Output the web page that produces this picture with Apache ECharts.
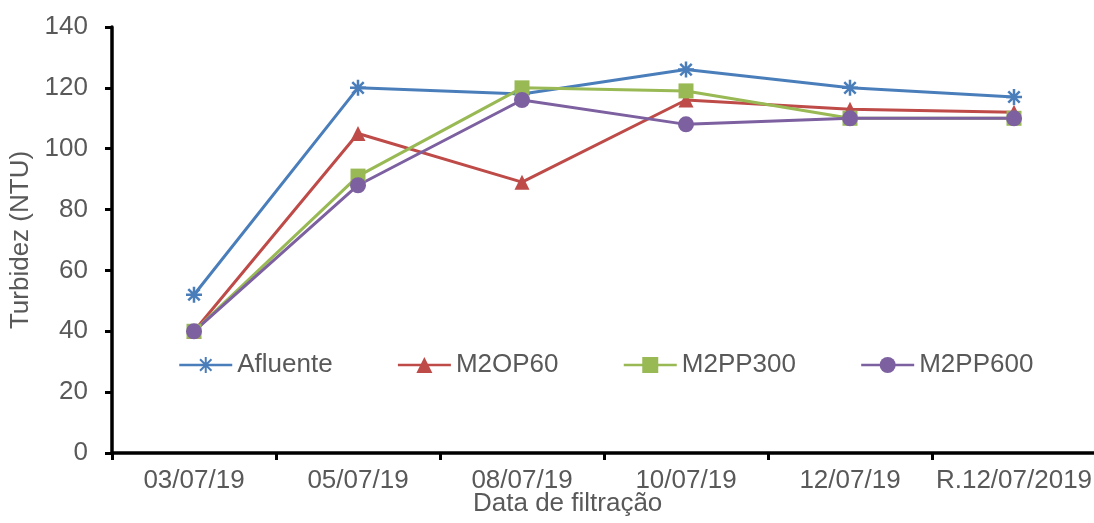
<!DOCTYPE html>
<html>
<head>
<meta charset="utf-8">
<script src="https://cdn.jsdelivr.net/npm/echarts@6/dist/echarts.min.js"></script>
<style>
  html, body { margin: 0; padding: 0; background: #fff; }
  #chart { width: 1094px; height: 523px; }
</style>
</head>
<body>
<div id="chart"></div>
<script>
// Turbidity over filtration dates
const categories = ['03/07/19', '05/07/19', '08/07/19', '10/07/19', '12/07/19', 'R.12/07/2019'];
const afluente = [52, 120, 118, 126, 120, 117];
const m2op60   = [40, 105, 89, 116, 113, 112];
const m2pp300  = [40, 91, 120, 119, 110, 110];
const m2pp600  = [40, 88, 116, 108, 110, 110];
const yTicks = { min: 0, max: 140, interval: 20 };

const FONT = '"Liberation Sans", Arial, sans-serif';
const TEXT = '#595959';
const asterisk = 'path://M0,0L10,10M10,0L0,10M5,-2L5,12M-2,5L12,5';

function lineSeries(name, data, color, symbol, size, extra) {
  return Object.assign({
    name: name,
    type: 'line',
    data: data,
    symbol: symbol,
    symbolSize: size,
    showAllSymbol: true,
    lineStyle: { color: color, width: 3 },
    itemStyle: { color: color, borderColor: color, borderWidth: 0 },
    emphasis: { disabled: true },
    animation: false
  }, extra || {});
}

const chart = echarts.init(document.getElementById('chart'), null, { renderer: 'canvas' });
chart.setOption({
  backgroundColor: '#ffffff',
  animation: false,
  grid: { left: 112, top: 27, width: 984, height: 426, containLabel: false, outerBoundsMode: 'none' },
  legend: {
    left: 173,
    top: 347,
    itemGap: 64,
    itemWidth: 53,
    itemHeight: 20,
    lineStyle: { width: 2.5 },
    textStyle: { fontFamily: FONT, fontSize: 26, color: TEXT },
    data: ['Afluente', 'M2OP60', 'M2PP300', 'M2PP600']
  },
  xAxis: {
    type: 'category',
    data: categories,
    boundaryGap: true,
    axisLine: { lineStyle: { color: '#000', width: 3.5 } },
    axisTick: { show: true, length: 7, lineStyle: { color: '#000', width: 3 } },
    axisLabel: { fontFamily: FONT, fontSize: 26, color: TEXT, margin: 15, interval: 0 },
    splitLine: { show: false }
  },
  yAxis: {
    type: 'value',
    min: yTicks.min,
    max: yTicks.max,
    interval: yTicks.interval,
    name: 'Turbidez (NTU)',
    nameLocation: 'middle',
    nameGap: 74,
    nameTextStyle: { fontFamily: FONT, fontSize: 26, color: TEXT },
    axisLine: { show: true, lineStyle: { color: '#000', width: 3.5 } },
    axisTick: { show: true, length: 7, lineStyle: { color: '#000', width: 3 } },
    axisLabel: { fontFamily: FONT, fontSize: 26, color: TEXT, margin: 24 },
    splitLine: { show: false }
  },
  graphic: [{
    type: 'text',
    left: 570 - 97,
    top: 491,
    style: { text: 'Data de filtração', fontFamily: FONT, fontSize: 26, fill: TEXT }
  }],
  series: [
    lineSeries('Afluente', afluente, '#4A7EBB', asterisk, 16, {
      itemStyle: { color: 'transparent', borderColor: '#4A7EBB', borderWidth: 2.5 }
    }),
    lineSeries('M2OP60', m2op60, '#BE4B48', 'triangle', 15),
    lineSeries('M2PP300', m2pp300, '#98B954', 'rect', 15),
    lineSeries('M2PP600', m2pp600, '#7D60A0', 'circle', 16)
  ]
});
</script>
</body>
</html>
